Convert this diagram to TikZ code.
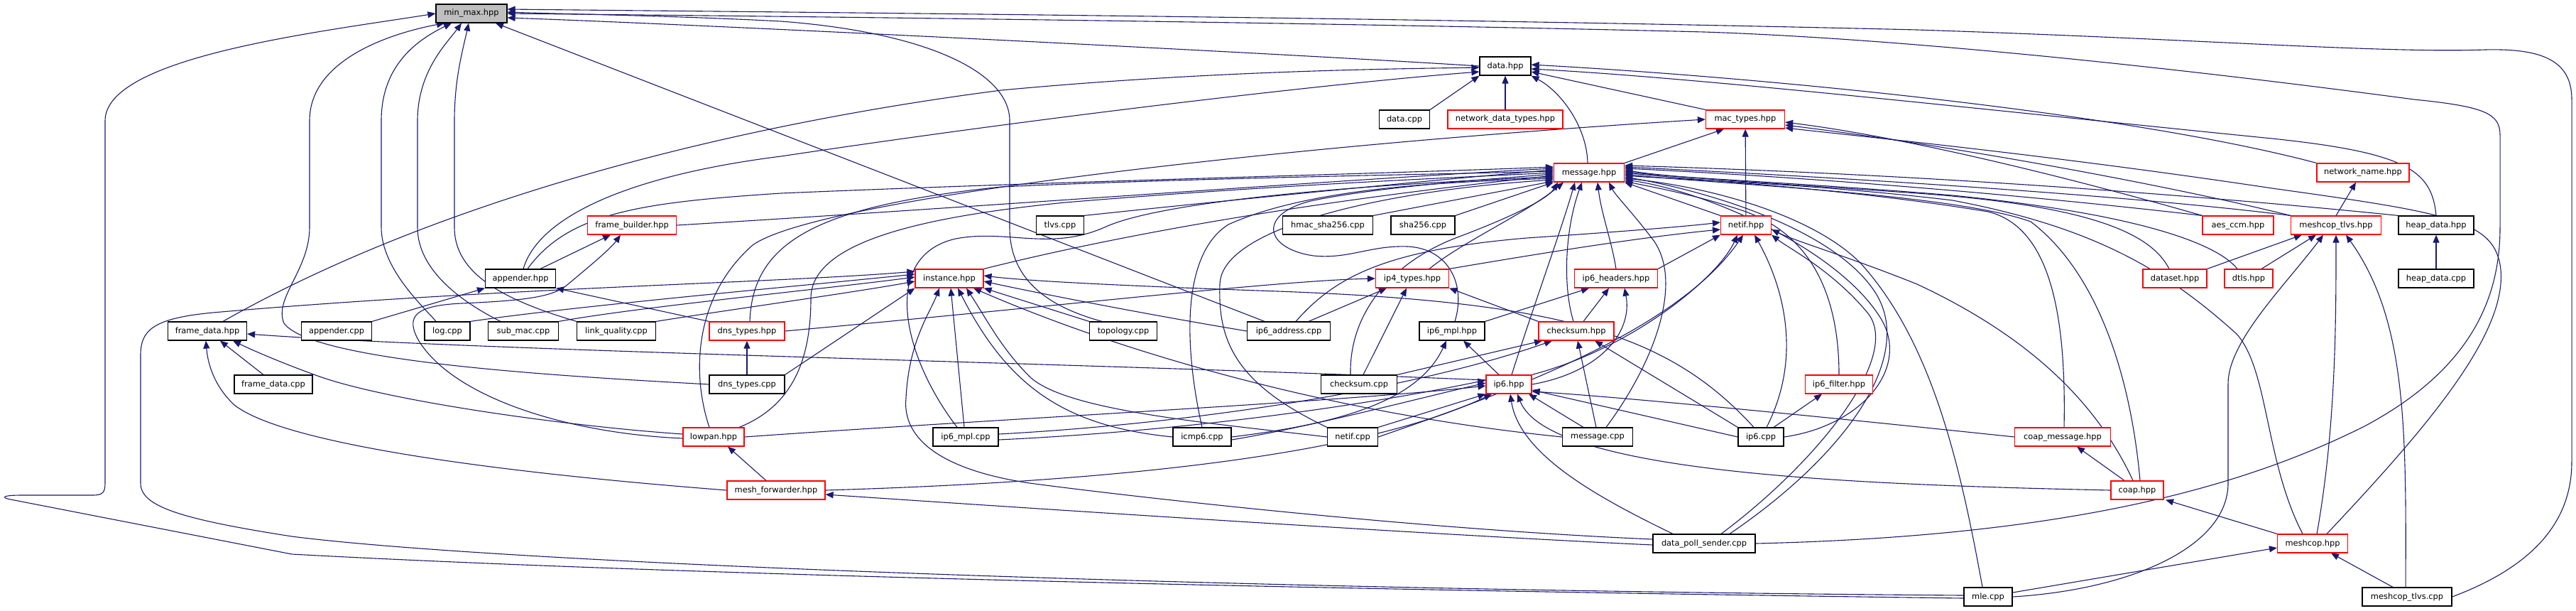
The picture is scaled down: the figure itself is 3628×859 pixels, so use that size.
\documentclass[tikz,border=0pt]{standalone}
\usepackage{fontspec}
\setmainfont{DejaVu Sans}
\usetikzlibrary{arrows.meta}
\definecolor{EdgeBlue}{HTML}{191970}
\definecolor{RootGray}{HTML}{BFBFBF}
\definecolor{BoxRed}{HTML}{FF0000}
\pgfdeclarelayer{edges}
\pgfsetlayers{edges,main}

\begin{document}
\begin{tikzpicture}[x=0.5pt,y=-0.5pt,
plainfile/.style={draw=black,fill=white,line width=0.6pt,minimum height=13pt,inner sep=0pt,font=\fontsize{5.7}{6.5}\selectfont},
redfile/.style={plainfile,draw=BoxRed},
rootfile/.style={plainfile,fill=RootGray},
dep/.style={draw=EdgeBlue,line width=0.55pt,-{Triangle[length=5.5pt,width=4.5pt]}}]
\useasboundingbox (0,0) rectangle (3628,859);

% rank 0 - 2
\node[rootfile,minimum width=50pt] (minmax) at (664,19) {min\_max.hpp};
\node[plainfile,minimum width=36pt] (datah) at (2120,93) {data.hpp};
\node[plainfile,minimum width=35.5pt] (datacpp) at (1978,168) {data.cpp};
\node[redfile,minimum width=81pt] (ndtypes) at (2120,168) {network\_data\_types.hpp};
\node[redfile,minimum width=55.5pt] (mactypes) at (2458,168) {mac\_types.hpp};
% rank 3 - 4
\node[redfile,minimum width=49.5pt] (msg) at (2238,243) {message.hpp};
\node[redfile,minimum width=65pt] (netname) at (3328,243) {network\_name.hpp};
\node[redfile,minimum width=62.5pt] (fbuilder) at (890,317) {frame\_builder.hpp};
\node[plainfile,minimum width=33.5pt] (tlvscpp) at (1493,317) {tlvs.cpp};
\node[plainfile,minimum width=63.5pt] (hmac) at (1870,317) {hmac\_sha256.cpp};
\node[plainfile,minimum width=45pt] (sha) at (2004,317) {sha256.cpp};
\node[redfile,minimum width=35.5pt] (netifh) at (2459,317) {netif.hpp};
\node[redfile,minimum width=50pt] (aesccm) at (3152,317) {aes\_ccm.hpp};
\node[redfile,minimum width=63.5pt] (mctlvsh) at (3290,317) {meshcop\_tlvs.hpp};
\node[plainfile,minimum width=53pt] (heaph) at (3431,317) {heap\_data.hpp};
% rank 5
\node[plainfile,minimum width=49.5pt] (apph) at (733,392) {appender.hpp};
\node[redfile,minimum width=48pt] (inst) at (1337,392) {instance.hpp};
\node[redfile,minimum width=51.5pt] (ip4t) at (1989,392) {ip4\_types.hpp};
\node[redfile,minimum width=58.5pt] (ip6hdr) at (2276,392) {ip6\_headers.hpp};
\node[redfile,minimum width=45pt] (dataset) at (3063,392) {dataset.hpp};
\node[redfile,minimum width=34pt] (dtls) at (3167,392) {dtls.hpp};
\node[plainfile,minimum width=53pt] (heapcpp) at (3431,392) {heap\_data.cpp};
% rank 6
\node[plainfile,minimum width=55.5pt] (fdatah) at (292,466) {frame\_data.hpp};
\node[plainfile,minimum width=49.5pt] (appcpp) at (474,466) {appender.cpp};
\node[plainfile,minimum width=32pt] (logcpp) at (630,466) {log.cpp};
\node[plainfile,minimum width=49.5pt] (submac) at (737,466) {sub\_mac.cpp};
\node[plainfile,minimum width=55.5pt] (linkq) at (868,466) {link\_quality.cpp};
\node[redfile,minimum width=53pt] (dnsh) at (1052,466) {dns\_types.hpp};
\node[plainfile,minimum width=47.5pt] (topo) at (1582,466) {topology.cpp};
\node[plainfile,minimum width=58.5pt] (ip6addr) at (1815,466) {ip6\_address.cpp};
\node[plainfile,minimum width=46pt] (mplh) at (2045,466) {ip6\_mpl.hpp};
\node[redfile,minimum width=53pt] (cksumh) at (2220,466) {checksum.hpp};
% rank 7
\node[plainfile,minimum width=55pt] (fdatacpp) at (385,541) {frame\_data.cpp};
\node[plainfile,minimum width=53pt] (dnscpp) at (1052,541) {dns\_types.cpp};
\node[plainfile,minimum width=53.5pt] (cksumcpp) at (1914,541) {checksum.cpp};
\node[redfile,minimum width=32pt] (ip6h) at (2125,541) {ip6.hpp};
\node[redfile,minimum width=47.5pt] (ip6filt) at (2590,541) {ip6\_filter.hpp};
% rank 8
\node[redfile,minimum width=43pt] (lowpan) at (1005,615) {lowpan.hpp};
\node[plainfile,minimum width=46pt] (mplcpp) at (1360,615) {ip6\_mpl.cpp};
\node[plainfile,minimum width=41pt] (icmp) at (1693,615) {icmp6.cpp};
\node[plainfile,minimum width=35.5pt] (netifcpp) at (1905,615) {netif.cpp};
\node[plainfile,minimum width=49.5pt] (msgcpp) at (2250,615) {message.cpp};
\node[plainfile,minimum width=32pt] (ip6cpp) at (2480,615) {ip6.cpp};
\node[redfile,minimum width=67.5pt] (coapmsg) at (2905,615) {coap\_message.hpp};
% rank 9 - 11
\node[redfile,minimum width=69pt] (meshfwd) at (1093,690) {mesh\_forwarder.hpp};
\node[redfile,minimum width=37pt] (coap) at (3010,690) {coap.hpp};
\node[plainfile,minimum width=72pt] (dps) at (2400,765) {data\_poll\_sender.cpp};
\node[redfile,minimum width=49.5pt] (meshcop) at (3257,765) {meshcop.hpp};
\node[plainfile,minimum width=34pt] (mle) at (2800,840) {mle.cpp};
\node[plainfile,minimum width=63pt] (mctlvscpp) at (3390,840) {meshcop\_tlvs.cpp};

\begin{pgfonlayer}{edges}
% into min_max.hpp
\draw[dep] ([yshift=-1pt]mle.west) .. controls (2000,832) and (1000,812) .. (411,780) -- (15,703) .. controls (0,700) and (5,697) .. (30,697) -- (130,697) .. controls (145,697) and (148,693) .. (148,680) -- (148,170) .. controls (148,80) and (450,45) .. (minmax.west);
\draw[dep] (dnscpp.west) .. controls (800,530) and (440,510) .. (400,455) .. controls (385,420) and (436,380) .. (436,320) -- (436,170) .. controls (436,80) and (560,45) .. ([xshift=-19pt]minmax.south);
\draw[dep] ([xshift=-8pt]logcpp.north) .. controls (600,435) and (537,380) .. (537,320) -- (537,170) .. controls (537,90) and (590,55) .. ([xshift=-14pt]minmax.south);
\draw[dep] ([xshift=-16pt]submac.north) .. controls (650,425) and (588,380) .. (588,320) -- (588,170) .. controls (588,100) and (630,60) .. ([xshift=-7pt]minmax.south);
\draw[dep] (linkq.north west) .. controls (720,425) and (640,390) .. (640,320) -- (640,170) .. controls (640,110) and (652,70) .. ([xshift=-2pt]minmax.south);
\draw[dep] ([xshift=-17pt]ip6addr.north) -- ([xshift=17pt]minmax.south);
\draw[dep] ([xshift=-15pt]topo.north) .. controls (1470,430) and (1422,390) .. (1422,320) -- (1422,170) .. controls (1422,100) and (1300,45) .. (1100,30) .. controls (950,22) and (800,20) .. ([yshift=1pt]minmax.east);
\draw[dep] (datah.west) .. controls (1800,75) and (1000,35) .. ([yshift=-3pt]minmax.east);
\draw[dep] (dps.east) .. controls (2900,755) and (3150,690) .. (3330,600) .. controls (3480,520) and (3521,420) .. (3521,320) -- (3521,190) .. controls (3521,160) and (3500,150) .. (3400,140) .. controls (3100,100) and (2700,55) .. (2400,45) .. controls (1800,30) and (1000,22) .. (minmax.east);
\draw[dep] (mctlvscpp.east) .. controls (3560,800) and (3622,740) .. (3622,650) -- (3622,140) .. controls (3622,85) and (3580,68) .. (3500,70) .. controls (3350,75) and (3100,55) .. (2700,42) .. controls (2000,25) and (1200,18) .. ([yshift=3pt]minmax.east);
% into data.hpp
\draw[dep] ([xshift=11pt]fdatah.north) .. controls (600,290) and (1000,180) .. (1410,127) .. controls (1700,100) and (1950,97) .. ([yshift=-1pt]datah.west);
\draw[dep] ([xshift=2pt]apph.north) .. controls (760,300) and (900,245) .. (1100,220) .. controls (1500,160) and (1900,115) .. ([yshift=-4pt]datah.west);
\draw[dep] (datacpp.north east) -- (datah.south west);
\draw[dep] (ndtypes) -- (datah);
\draw[dep] ([xshift=-1pt]msg.north) .. controls (2235,180) and (2200,130) .. (datah.south east);
\draw[dep] (mactypes.north west) -- ([yshift=-4pt]datah.east);
\draw[dep] (netname.north west) .. controls (3000,160) and (2500,110) .. ([yshift=1pt]datah.east);
\draw[dep] (heaph.north) .. controls (3425,240) and (3390,215) .. (3200,195) .. controls (2800,155) and (2400,110) .. ([yshift=-2pt]datah.east);
% into mac_types.hpp
\draw[dep] (msg.north east) -- ([xshift=-15pt]mactypes.south);
\draw[dep] (netifh) -- (mactypes);
\draw[dep] ([xshift=-3pt]lowpan.north) .. controls (975,530) and (975,420) .. (1060,345) .. controls (1150,280) and (1800,205) .. (mactypes.west);
\draw[dep] (aesccm.north west) .. controls (2950,260) and (2700,195) .. ([yshift=-2pt]mactypes.east);
\draw[dep] (mctlvsh.north west) .. controls (3050,260) and (2750,205) .. ([yshift=-4pt]mactypes.east);
\draw[dep] ([xshift=10pt]meshcop.north) .. controls (3420,600) and (3530,470) .. (3522,380) .. controls (3515,310) and (3450,300) .. (3200,265) .. controls (2900,220) and (2650,195) .. ([yshift=-6pt]mactypes.east);
\draw[dep] (mctlvsh.north) -- ([xshift=-5pt]netname.south);
% into message.hpp
\draw[dep] ([xshift=5pt]apph.north) .. controls (800,300) and (900,285) .. (1100,272) .. controls (1500,255) and (1900,246) .. ([yshift=4pt]msg.west);
\draw[dep] (fbuilder.east) .. controls (1400,290) and (1900,252) .. ([yshift=3pt]msg.west);
\draw[dep] (tlvscpp.north east) .. controls (1700,285) and (2000,255) .. ([yshift=2pt]msg.west);
\draw[dep] ([xshift=2pt]dnsh.north) .. controls (1060,340) and (1150,290) .. (1410,263) .. controls (1700,250) and (2000,246) .. ([yshift=1pt]msg.west);
\draw[dep] ([xshift=18pt]lowpan.north) .. controls (1120,570) and (1142,500) .. (1142,420) .. controls (1142,340) and (1300,305) .. (1500,285) .. controls (1800,260) and (2050,250) .. (msg.west);
\draw[dep] (inst.north east) .. controls (1700,300) and (2050,262) .. ([yshift=-2pt]msg.west);
\draw[dep] ([xshift=-6pt]mplcpp.north) .. controls (1270,500) and (1240,360) .. (1346,336) .. controls (1420,322) and (1480,355) .. (1560,318) .. controls (1650,280) and (1950,258) .. ([yshift=-3pt]msg.west);
\draw[dep] (icmp.north) .. controls (1670,500) and (1660,360) .. (1730,316) .. controls (1850,262) and (2050,256) .. ([yshift=-4pt]msg.west);
\draw[dep] (netifcpp.north west) .. controls (1740,540) and (1715,480) .. (1718,400) .. controls (1720,320) and (1950,268) .. ([yshift=-5pt]msg.west);
\draw[dep] (hmac.north east) -- ([yshift=-6pt]msg.west);
\draw[dep] (sha.north east) -- (msg.south west);
\draw[dep] ([xshift=-6pt]cksumcpp.north) .. controls (1900,440) and (1960,370) .. (2050,335) .. controls (2130,305) and (2180,280) .. ([xshift=-22pt]msg.south);
\draw[dep] ([xshift=12pt]ip4t.north) .. controls (2060,340) and (2150,300) .. ([xshift=-18pt]msg.south);
\draw[dep] ([xshift=2pt]mplh.north) .. controls (2065,400) and (2040,350) .. (1983,347) .. controls (1930,345) and (1900,365) .. (1850,360) .. controls (1780,350) and (1770,300) .. (1850,282) .. controls (1950,262) and (2100,252) .. ([yshift=-1pt]msg.west);
\draw[dep] ([xshift=2pt]ip6h.north) .. controls (2160,430) and (2200,320) .. ([xshift=-10pt]msg.south);
\draw[dep] ([xshift=-2pt]cksumh.north) .. controls (2200,400) and (2205,320) .. ([xshift=-5pt]msg.south);
\draw[dep] (ip6hdr.north) .. controls (2270,340) and (2255,300) .. ([xshift=6pt]msg.south);
\draw[dep] ([xshift=6pt]msgcpp.north) .. controls (2330,510) and (2370,400) .. (2330,340) .. controls (2300,300) and (2275,275) .. ([xshift=14pt]msg.south);
\draw[dep] (netifh.north west) -- (msg.south east);
\draw[dep] (heaph.north west) .. controls (3100,275) and (2700,245) .. ([yshift=5pt]msg.east);
\draw[dep] (mctlvsh.north west) .. controls (3000,275) and (2600,250) .. ([yshift=4pt]msg.east);
\draw[dep] (aesccm.north west) .. controls (2900,280) and (2600,252) .. ([yshift=3pt]msg.east);
\draw[dep] ([xshift=-4pt]dataset.north) .. controls (3030,330) and (2950,290) .. (2700,272) .. controls (2500,258) and (2350,250) .. ([yshift=2pt]msg.east);
\draw[dep] ([xshift=-8pt]dtls.north) .. controls (3120,340) and (3000,300) .. (2750,275) .. controls (2550,258) and (2350,250) .. ([yshift=1pt]msg.east);
\draw[dep] ([xshift=1pt]coapmsg.north) .. controls (2910,450) and (2890,320) .. (2800,298) .. controls (2600,265) and (2400,255) .. (msg.east);
\draw[dep] ([xshift=2pt]coap.north) .. controls (3000,520) and (2950,380) .. (2860,312) .. controls (2750,272) and (2400,258) .. ([yshift=-1pt]msg.east);
\draw[dep] ([xshift=-7pt]meshcop.north) .. controls (3190,650) and (3195,520) .. (3150,470) .. controls (3050,380) and (2950,320) .. (2750,282) .. controls (2550,258) and (2350,252) .. ([yshift=-2pt]msg.east);
\draw[dep] ([xshift=18pt]dps.north) .. controls (2600,640) and (2700,500) .. (2640,410) .. controls (2580,320) and (2400,268) .. ([yshift=-3pt]msg.east);
\draw[dep] ([xshift=-4pt]mle.north) .. controls (2760,650) and (2720,480) .. (2620,370) .. controls (2550,300) and (2400,262) .. ([yshift=-4pt]msg.east);
\draw[dep] (ip6cpp.east) .. controls (2620,600) and (2690,520) .. (2650,450) .. controls (2590,350) and (2400,268) .. ([yshift=-5pt]msg.east);
\draw[dep] (ip6filt.north) .. controls (2590,430) and (2560,330) .. (2450,295) .. controls (2380,272) and (2320,262) .. ([yshift=-6pt]msg.east);
% into netif.hpp
\draw[dep] (ip4t.north east) .. controls (2150,360) and (2300,335) .. ([yshift=-3pt]netifh.west);
\draw[dep] ([xshift=5pt]ip6addr.north) .. controls (1880,390) and (1950,352) .. (2150,335) .. controls (2300,325) and (2380,318) .. ([yshift=2pt]netifh.west);
\draw[dep] (ip6hdr.north east) -- (netifh.south west);
\draw[dep] (ip6h.north east) .. controls (2300,490) and (2420,390) .. ([xshift=-6pt]netifh.south);
\draw[dep] (netifcpp.east) .. controls (2100,560) and (2360,470) .. ([xshift=-2pt]netifh.south);
\draw[dep] ([xshift=4pt]ip6cpp.north) .. controls (2540,500) and (2510,400) .. ([xshift=6pt]netifh.south);
\draw[dep] ([xshift=12pt]dps.north) .. controls (2560,650) and (2680,500) .. (2630,440) .. controls (2580,380) and (2520,350) .. (netifh.south east);
\draw[dep] ([xshift=-3pt]coap.north) .. controls (2950,560) and (2850,470) .. (2700,400) .. controls (2600,360) and (2530,340) .. ([yshift=-3pt]netifh.east);
% into instance.hpp
\draw[dep] (logcpp.north east) .. controls (800,432) and (1100,405) .. ([yshift=3pt]inst.west);
\draw[dep] (submac.north east) .. controls (900,432) and (1150,408) .. ([yshift=1pt]inst.west);
\draw[dep] (linkq.north east) .. controls (1000,440) and (1200,412) .. ([yshift=-2pt]inst.west);
\draw[dep] ([yshift=1pt]mle.west) .. controls (1700,830) and (700,792) .. (411,755) .. controls (250,730) and (198,712) .. (198,680) -- (198,500) .. controls (198,465) and (215,448) .. (300,440) .. controls (700,405) and (1100,398) .. ([yshift=5pt]inst.west);
\draw[dep] (dnscpp.north east) -- (inst.south west);
\draw[dep] ([xshift=-1pt]mplcpp.north) -- ([xshift=1pt]inst.south);
\draw[dep] (icmp.west) .. controls (1500,600) and (1420,545) .. ([xshift=6pt]inst.south);
\draw[dep] (netifcpp.west) .. controls (1700,595) and (1500,578) .. (1450,530) .. controls (1410,490) and (1390,450) .. ([xshift=12pt]inst.south);
\draw[dep] (topo.north west) -- (inst.south east);
\draw[dep] (msgcpp.west) .. controls (1900,585) and (1600,505) .. ([xshift=17pt]inst.south);
\draw[dep] ([xshift=-5pt]ip6cpp.north) .. controls (2350,470) and (2200,425) .. (1800,410) .. controls (1600,403) and (1450,396) .. ([yshift=2pt]inst.east);
\draw[dep] (ip6addr.west) .. controls (1600,440) and (1450,410) .. ([yshift=-2pt]inst.east);
\draw[dep] ([yshift=3pt]dps.west) .. controls (2000,745) and (1600,700) .. (1450,680) .. controls (1330,662) and (1270,620) .. (1276,560) .. controls (1280,480) and (1310,440) .. ([xshift=-7pt]inst.south);
% appender, frame builder, frame data
\draw[dep] (appcpp.north east) -- (apph.south west);
\draw[dep] (dnsh.north west) -- (apph.south east);
\draw[dep] ([xshift=14pt]apph.north) -- ([xshift=-15pt]fbuilder.south);
\draw[dep] ([yshift=-1pt]lowpan.west) .. controls (800,610) and (640,560) .. (590,480) .. controls (570,445) and (585,430) .. (650,427) .. controls (740,423) and (780,418) .. (800,400) .. controls (830,375) and (860,350) .. ([xshift=-8pt]fbuilder.south);
\draw[dep] ([xshift=-7pt]fdatacpp.north) -- ([xshift=9pt]fdatah.south);
\draw[dep] ([yshift=2pt]lowpan.west) .. controls (800,600) and (550,565) .. (450,530) .. controls (400,512) and (360,495) .. ([xshift=18pt]fdatah.south);
\draw[dep] (meshfwd.west) .. controls (700,665) and (400,625) .. (330,570) .. controls (298,540) and (292,505) .. ([xshift=-1pt]fdatah.south);
\draw[dep] ([yshift=3pt]ip6h.west) .. controls (1500,510) and (700,495) .. ([yshift=-2pt]fdatah.east);
\draw[dep] ([xshift=-7pt]meshfwd.north) -- ([xshift=10pt]lowpan.south);
\draw[dep] (dnscpp) -- (dnsh);
\draw[dep] ([yshift=-1pt]dps.west) .. controls (2000,752) and (1400,712) .. ([yshift=-3pt]meshfwd.east);
% ip4_types, ip6_headers, ip6_mpl.hpp
\draw[dep] (dnsh.east) .. controls (1500,430) and (1800,395) .. (ip4t.west);
\draw[dep] ([xshift=14pt]ip6addr.north) -- ([xshift=-18pt]ip4t.south);
\draw[dep] ([xshift=3pt]cksumcpp.north) -- ([xshift=-4pt]ip4t.south);
\draw[dep] (cksumh.north west) -- (ip4t.south east);
\draw[dep] (mplh.north east) -- ([xshift=-19pt]ip6hdr.south);
\draw[dep] ([xshift=5pt]cksumh.north) -- ([xshift=-5pt]ip6hdr.south);
\draw[dep] (ip6h.east) .. controls (2250,525) and (2300,470) .. ([xshift=6pt]ip6hdr.south);
\draw[dep] ([xshift=-7pt]ip6h.north) -- ([xshift=8pt]mplh.south);
\draw[dep] (icmp.east) .. controls (1900,595) and (2000,560) .. ([xshift=-4pt]mplh.south);
% checksum.hpp
\draw[dep] (cksumcpp.north east) -- ([xshift=-24pt]cksumh.south);
\draw[dep] ([yshift=2pt]mplcpp.east) .. controls (1700,595) and (2000,545) .. ([xshift=-17pt]cksumh.south);
\draw[dep] ([xshift=-1pt]msgcpp.north) -- ([xshift=1pt]cksumh.south);
\draw[dep] (ip6cpp.north west) -- ([xshift=13pt]cksumh.south);
% ip6.hpp
\draw[dep] (ip6cpp.west) -- ([yshift=-4pt]ip6h.east);
\draw[dep] ([xshift=-10pt]msgcpp.north) -- ([xshift=14pt]ip6h.south);
\draw[dep] (netifcpp.north east) -- (ip6h.south west);
\draw[dep] ([yshift=-2pt]mplcpp.east) .. controls (1700,605) and (1950,565) .. ([yshift=3pt]ip6h.west);
\draw[dep] ([yshift=-2pt]icmp.east) .. controls (1850,600) and (2000,560) .. ([yshift=1pt]ip6h.west);
\draw[dep] (lowpan.east) .. controls (1400,590) and (1900,565) .. ([yshift=-1pt]ip6h.west);
\draw[dep] (meshfwd.east) .. controls (1500,680) and (1900,650) .. ([xshift=-12pt]ip6h.south);
\draw[dep] ([xshift=-22pt]dps.north) .. controls (2250,700) and (2140,640) .. ([xshift=1pt]ip6h.south);
\draw[dep] (coap.west) .. controls (2600,682) and (2180,665) .. ([xshift=6pt]ip6h.south);
\draw[dep] (coapmsg.west) .. controls (2600,590) and (2300,560) .. ([yshift=-5pt]ip6h.east);
% ip6_filter, coap, meshcop
\draw[dep] ([xshift=9pt]ip6cpp.north) -- ([xshift=-12pt]ip6filt.south);
\draw[dep] ([xshift=-9pt]coap.north) -- ([xshift=10pt]coapmsg.south);
\draw[dep] (meshcop.north west) -- ([xshift=20pt]coap.south);
\draw[dep] ([yshift=3pt]mle.east) -- ([yshift=-3pt]meshcop.west);
\draw[dep] ([xshift=-10pt]mctlvscpp.north) -- ([xshift=13pt]meshcop.south);
% meshcop_tlvs.hpp, heap_data
\draw[dep] (dataset.north east) -- ([xshift=-24pt]mctlvsh.south);
\draw[dep] ([xshift=9pt]dtls.north) -- ([xshift=-14pt]mctlvsh.south);
\draw[dep] (mle.east) .. controls (3000,830) and (3138,770) .. (3138,680) -- (3138,540) .. controls (3138,480) and (3220,400) .. ([xshift=-9pt]mctlvsh.south);
\draw[dep] ([xshift=3pt]meshcop.north) .. controls (3290,600) and (3290,450) .. (mctlvsh.south);
\draw[dep] ([xshift=-1pt]mctlvscpp.north) .. controls (3389,600) and (3389,450) .. ([xshift=7pt]mctlvsh.south);
\draw[dep] (heapcpp) -- (heaph);
\end{pgfonlayer}
\end{tikzpicture}
\end{document}
